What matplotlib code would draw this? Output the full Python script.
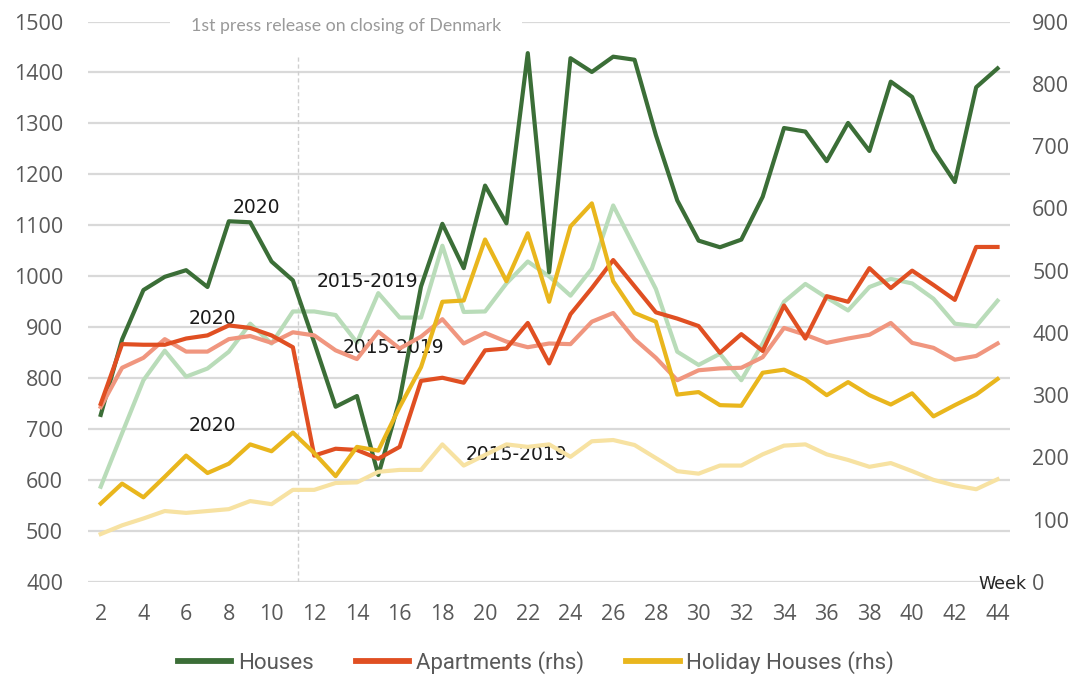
import matplotlib
matplotlib.use("Agg")
import matplotlib.pyplot as plt
import numpy as np

# weekly data, week 2..44
weeks = list(range(2, 45))

houses_2020 = [728, 876, 973, 999, 1012, 979, 1108, 1106, 1029, 992,
               870, 744, 765, 610, 758, 980, 1103, 1016, 1178, 1104,
               1438, 1008, 1428, 1401, 1431, 1425, 1277, 1149, 1070, 1057,
               1072, 1156, 1291, 1284, 1226, 1301, 1246, 1382, 1352, 1248,
               1185, 1371, 1408]
houses_avg = [587, 692, 796, 854, 803, 819, 852, 907, 868, 931,
              931, 924, 870, 967, 919, 919, 1060, 930, 931, 986,
              1029, 1000, 962, 1015, 1139, 1057, 975, 852, 826, 848,
              796, 868, 950, 985, 958, 933, 979, 995, 986, 956,
              907, 902, 952]

apartments_2020 = [286, 382, 381, 381, 391, 396, 412, 408, 396, 377,
                   203, 214, 212, 198, 217, 323, 328, 320, 372, 375,
                   416, 351, 430, 472, 517, 475, 433, 423, 411, 368,
                   398, 371, 444, 391, 459, 450, 504, 472, 500, 477,
                   453, 538, 538]
apartments_avg = [281, 344, 360, 390, 370, 370, 390, 395, 384, 401,
                  396, 372, 358, 402, 375, 394, 422, 383, 400, 386,
                  377, 383, 382, 418, 432, 390, 360, 324, 340, 343,
                  344, 361, 408, 397, 384, 391, 397, 416, 384, 376,
                  357, 363, 383]

holiday_2020 = [126, 158, 136, 169, 203, 175, 190, 221, 210, 240,
                207, 170, 217, 211, 281, 345, 450, 452, 550, 483,
                560, 450, 571, 608, 483, 432, 418, 301, 305, 284,
                283, 336, 341, 325, 300, 321, 300, 285, 303, 266,
                284, 301, 326]
holiday_avg = [77, 91, 102, 114, 111, 114, 117, 130, 125, 148,
               148, 159, 160, 177, 180, 180, 221, 187, 204, 221,
               217, 221, 201, 226, 228, 220, 199, 178, 174, 187,
               187, 205, 219, 221, 205, 196, 185, 191, 178, 164,
               155, 149, 165]

left_ticks = list(range(400, 1501, 100))
right_ticks = list(range(0, 901, 100))
x_ticks = list(range(2, 45, 2))

c_houses = "#3b6e37"
c_houses_l = "#b9dcb9"
c_apart = "#e04f22"
c_apart_l = "#f0967f"
c_holiday = "#e9b61d"
c_holiday_l = "#f7e2a2"
tick_col = "#595959"

fig = plt.figure(figsize=(10.72, 6.77), dpi=100)
ax = fig.add_axes([0.0821, 0.1403, 0.860, 0.8279])
ax2 = ax.twinx()

ax.set_xlim(1.405, 44.58)
ax.set_ylim(400, 1500)
ax2.set_ylim(0, 900)

for s in list(ax.spines.values()) + list(ax2.spines.values()):
    s.set_visible(False)

for v in left_ticks:
    ax.axhline(v, color="#d9d9d9", lw=1.6, zorder=0)

ax.axvline(11.25, color="#cfcfcf", lw=1, ls=(0, (3, 2)), zorder=1)

lw = 3.0
ax.plot(weeks, houses_avg, color=c_houses_l, lw=lw, zorder=3)
ax.plot(weeks, houses_2020, color=c_houses, lw=lw, zorder=4)
ax2.plot(weeks, apartments_avg, color=c_apart_l, lw=lw, zorder=3)
ax2.plot(weeks, holiday_avg, color=c_holiday_l, lw=lw, zorder=3)
ax2.plot(weeks, apartments_2020, color=c_apart, lw=lw, zorder=4)
ax2.plot(weeks, holiday_2020, color=c_holiday, lw=lw, zorder=4)

ax.set_xticks(x_ticks)
ax.set_yticks(left_ticks)
ax2.set_yticks(right_ticks)
ax.tick_params(axis="both", length=0, colors=tick_col, labelsize=15.5)
ax.tick_params(axis="x", pad=16)
ax.tick_params(axis="y", pad=18)
ax2.tick_params(axis="y", length=0, colors=tick_col, labelsize=15.5, pad=16)
for lab in ax.get_xticklabels() + ax.get_yticklabels() + ax2.get_yticklabels():
    lab.set_fontfamily("Open Sans")

# press release note
ax.text(13.48, 1491, "1st press release on closing of Denmark", ha="center", va="center",
        fontsize=12.8, color="#9a9a9a", family="Lato", zorder=2,
        bbox=dict(facecolor="white", edgecolor="none", pad=15))

ann = dict(ha="center", va="center", fontsize=13.5, color="#1a1a1a", family="DejaVu Sans", zorder=6)
ax.text(9.27, 1135, "2020", **ann)
ax.text(14.51, 989, "2015-2019", **ann)
ax.text(7.21, 918, "2020", **ann)
ax.text(15.69, 860, "2015-2019", **ann)
ax.text(7.21, 708, "2020", **ann)
ax.text(21.45, 651, "2015-2019", **ann)
ax.text(44.24, 396, "Week", ha="center", va="center", fontsize=12.5, color="#262626", zorder=6)

# legend
h1, = ax.plot([], [], color=c_houses, lw=4.2)
h2, = ax.plot([], [], color=c_apart, lw=4.2)
h3, = ax.plot([], [], color=c_holiday, lw=4.2)
leg = fig.legend([h1, h2, h3], ["Houses", "Apartments (rhs)", "Holiday Houses (rhs)"],
                 loc="center", bbox_to_anchor=(0.5, 0.021), ncol=3, frameon=False,
                 handlelength=2.4, handletextpad=0.3, columnspacing=1.9,
                 prop={"family": "Roboto", "size": 16})
for t in leg.get_texts():
    t.set_color(tick_col)

fig.savefig("out.png", dpi=100)
